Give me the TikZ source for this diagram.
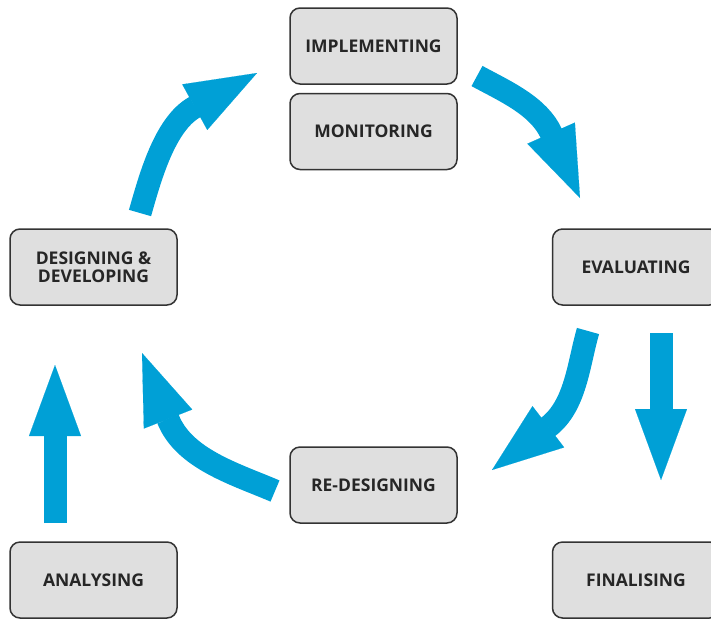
\documentclass[tikz,border=0pt]{standalone}
\usepackage{fontspec}
\setmainfont{Open Sans}
\usepackage{tikz}
\usetikzlibrary{arrows.meta,positioning}
\definecolor{flowblue}{RGB}{0,160,214}
\tikzset{
    % Stage box style
    stage/.style={draw=black!80,fill=gray!25,line width=1.5pt,rounded corners=10pt,
        minimum width=167pt,minimum height=76pt,align=center,text=black!85,
        font=\fontsize{17.5}{18}\selectfont\bfseries},
    % Thick blue flow arrow
    flow/.style={line width=23pt,flowblue,-{Triangle[length=71pt,width=52pt,line width=0.1pt]}}
}
\begin{document}
\begin{tikzpicture}[x=1pt,y=-1pt]
    \useasboundingbox (0,0) rectangle (711,619);

    % Stages of the cycle
    \node[stage] (impl) at (373.5,46) {IMPLEMENTING};
    \node[stage,below=8pt of impl] (moni) {MONITORING};
    \node[stage] (desdev) at (93.5,267) {DESIGNING \&\\DEVELOPING};
    \node[stage] (eval) at (636,267) {EVALUATING};
    \node[stage] (redes) at (373.5,485) {RE-DESIGNING};
    \node[stage] (analys) at (93.5,580) {ANALYSING};
    \node[stage] (fin) at (636,580) {FINALISING};

    % Arrow ends
    \coordinate (desdev-out) at (140,213);
    \coordinate (impl-in) at (257,73);
    \coordinate (impl-out) at (477,76);
    \coordinate (eval-in) at (580,198);
    \coordinate (eval-out) at (588,331);
    \coordinate (redes-in) at (492,470);
    \coordinate (redes-out) at (275,491);
    \coordinate (desdev-in) at (142,353);
    \coordinate (analys-out) at (55,523);
    \coordinate (desdev-up) at (55,365);
    \coordinate (eval-down) at (661,333);
    \coordinate (fin-in) at (661,480);

    % Curved arrows round the cycle
    \draw[flow] (desdev-out) .. controls (149.7,179.4) and (164.3,123.8) .. (195,107) -- (impl-in);
    \draw[flow] (impl-out) .. controls (504.2,90.9) and (538.9,105.7) .. (551.5,134) -- (eval-in);
    \draw[flow] (eval-out) .. controls (578.3,364.6) and (575.8,405.7) .. (548,427) -- (redes-in);
    \draw[flow] (redes-out) .. controls (235.5,474.1) and (183.8,459) .. (168,419) -- (desdev-in);

    % Straight arrows
    \draw[flow] (analys-out) -- (desdev-up);
    \draw[flow] (eval-down) -- (fin-in);
\end{tikzpicture}
\end{document}
